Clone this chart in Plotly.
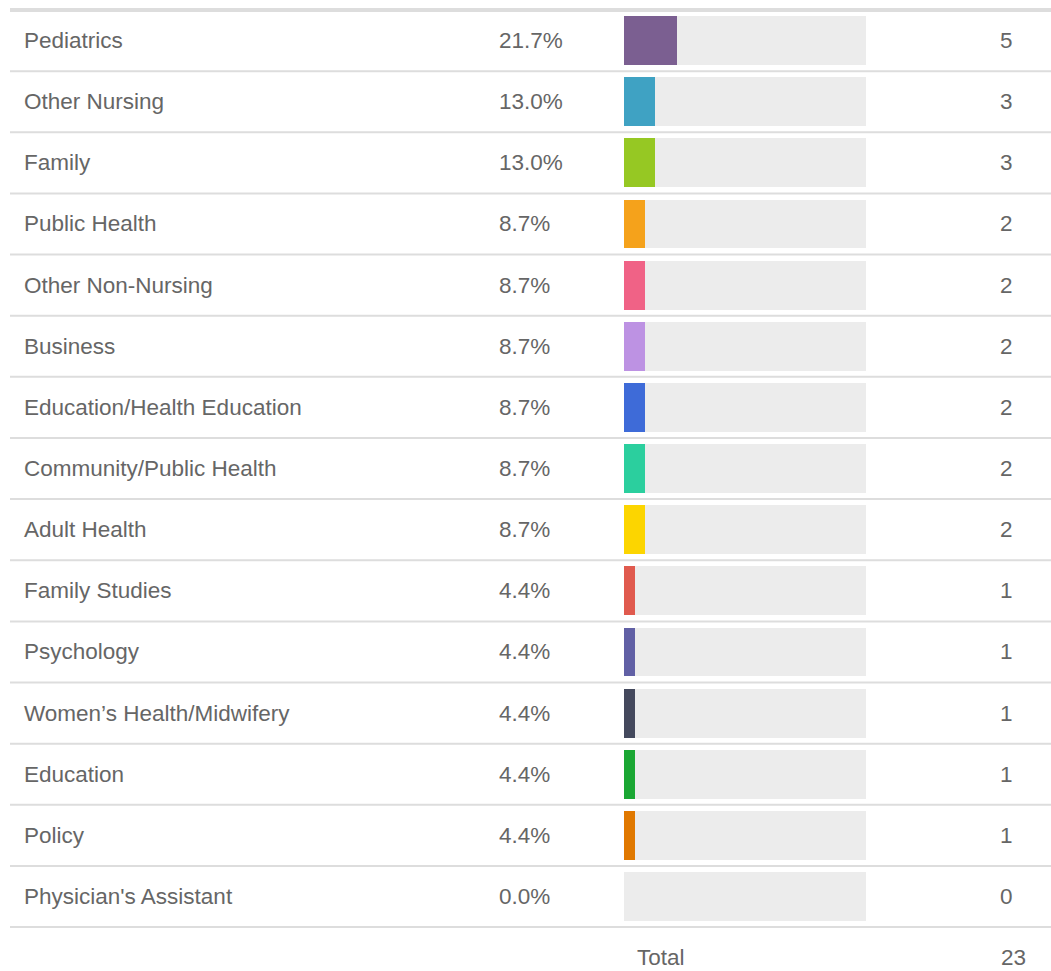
import plotly.graph_objects as go

# Survey breakdown: specialty, share of responses and count
categories = [
    "Pediatrics", "Other Nursing", "Family", "Public Health", "Other Non-Nursing",
    "Business", "Education/Health Education", "Community/Public Health", "Adult Health",
    "Family Studies", "Psychology", "Women\u2019s Health/Midwifery", "Education", "Policy",
    "Physician's Assistant",
]
percents = [21.7, 13.0, 13.0, 8.7, 8.7, 8.7, 8.7, 8.7, 8.7, 4.4, 4.4, 4.4, 4.4, 4.4, 0.0]
counts = [5, 3, 3, 2, 2, 2, 2, 2, 2, 1, 1, 1, 1, 1, 0]
total = 23
colors = [
    "#7b5f91", "#3fa2c3", "#96c823", "#f5a21b", "#f06286", "#bd92e3", "#3e6bd8",
    "#2bcf9e", "#fcd500", "#e05a4e", "#6160a5", "#44495d", "#1aa733", "#e07800", "#cccccc",
]

W, H = 1051, 971
TEXT = "#666666"
FONT = "Liberation Sans, Arial, Helvetica, sans-serif"
FS = 22.5

rows = list(range(len(categories)))

fig = go.Figure()

# Track behind each bar (full scale)
fig.add_trace(go.Bar(
    x=[1.0] * len(rows), y=rows, orientation="h", width=0.8,
    marker=dict(color="#ececec", line=dict(width=0)),
    hoverinfo="skip", showlegend=False,
))
# Share of responses
fig.add_trace(go.Bar(
    x=[p / 100 for p in percents], y=rows, orientation="h", width=0.8,
    marker=dict(color=colors, line=dict(width=0)),
    customdata=categories, hovertemplate="%{customdata}: %{x:.1%}<extra></extra>",
    showlegend=False,
))

annotations = []
for i, (cat, pct, cnt) in enumerate(zip(categories, percents, counts)):
    annotations.append(dict(x=22 / W, y=i, xref="paper", yref="y", text=cat,
                            xanchor="left", yanchor="middle", showarrow=False,
                            font=dict(family=FONT, size=FS, color=TEXT)))
    annotations.append(dict(x=497 / W, y=i, xref="paper", yref="y", text=f"{pct:.1f}%",
                            xanchor="left", yanchor="middle", showarrow=False,
                            font=dict(family=FONT, size=FS, color=TEXT)))
    annotations.append(dict(x=1015 / W, y=i, xref="paper", yref="y", text=str(cnt),
                            xanchor="right", yanchor="middle", showarrow=False,
                            font=dict(family=FONT, size=FS, color=TEXT)))

n = len(categories)
annotations.append(dict(x=635 / W, y=n, xref="paper", yref="y", text="Total",
                        xanchor="left", yanchor="middle", showarrow=False,
                        font=dict(family=FONT, size=FS, color=TEXT)))
annotations.append(dict(x=1028 / W, y=n, xref="paper", yref="y", text=str(total),
                        xanchor="right", yanchor="middle", showarrow=False,
                        font=dict(family=FONT, size=FS, color=TEXT)))

# Row rules: heavy header rule, thin separators between rows
shapes = [dict(type="line", xref="paper", yref="y", x0=10 / W, x1=1, y0=-0.5, y1=-0.5,
               line=dict(color="#dddddd", width=4), layer="below")]
for i in range(n):
    shapes.append(dict(type="line", xref="paper", yref="y", x0=10 / W, x1=1,
                       y0=i + 0.5, y1=i + 0.5,
                       line=dict(color="#dddddd", width=2), layer="below"))

pitch = 61.14
top = 10
y_top = -top / pitch - 0.5
y_bottom = (H - top) / pitch - 0.5

fig.update_layout(
    width=W, height=H,
    margin=dict(l=0, r=0, t=0, b=0),
    paper_bgcolor="white", plot_bgcolor="white",
    barmode="overlay", bargap=0,
    xaxis=dict(domain=[624 / W, 866 / W], range=[0, 1], visible=False, fixedrange=True),
    yaxis=dict(range=[y_bottom, y_top], visible=False, fixedrange=True),
    annotations=annotations, shapes=shapes,
)

fig.write_html("out.html")
